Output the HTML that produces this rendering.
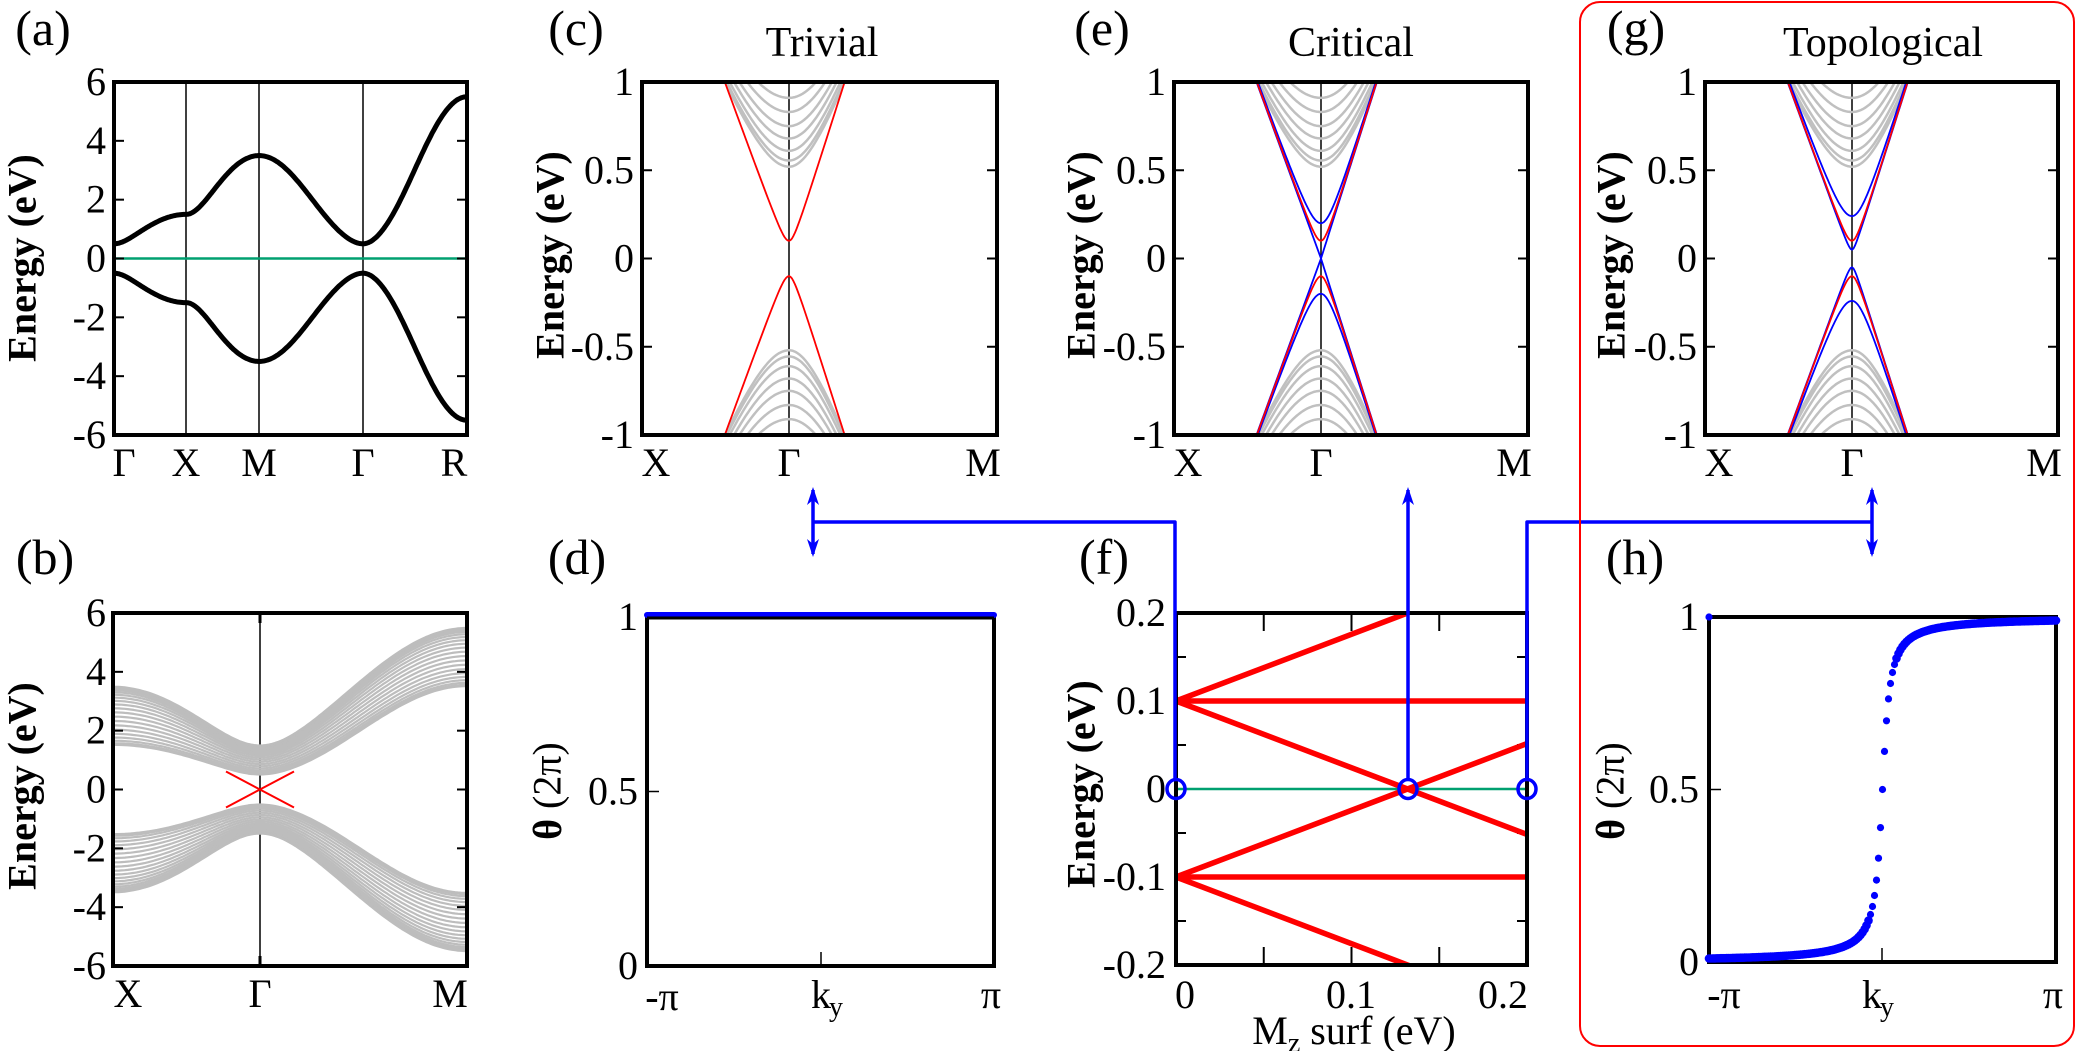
<!DOCTYPE html>
<html><head><meta charset="utf-8"><style>
html,body{margin:0;padding:0;background:#fff;}
svg{display:block;}
text{font-family:"Liberation Serif","Times New Roman",serif;}
</style></head><body>
<svg id="s" width="2076" height="1051" viewBox="0 0 2076 1051" xmlns="http://www.w3.org/2000/svg" font-family="Liberation Serif, serif">
<rect x="0" y="0" width="2076" height="1051" fill="#fff"/>
<g id="g"></g>
</svg>
<script>
const NS="http://www.w3.org/2000/svg";
const G=document.getElementById('g');
const FF='Liberation Serif, serif';
function el(t,a,txt){const e=document.createElementNS(NS,t);if(t==='text')e.setAttribute('font-family',FF);for(const k in a)e.setAttribute(k,a[k]);if(txt!==undefined)e.textContent=txt;G.appendChild(e);return e;}
function line(x1,y1,x2,y2,c,w,extra){return el('line',Object.assign({x1,y1,x2,y2,stroke:c,'stroke-width':w},extra||{}));}
function path(d,c,w,extra){return el('path',Object.assign({d,stroke:c,'stroke-width':w,fill:'none','stroke-linejoin':'round'},extra||{}));}
function text(x,y,s,size,anchor,extra){return el('text',Object.assign({x,y,'font-size':size,'text-anchor':anchor||'middle'},extra||{}),s);}
function clip(id,x0,y0,x1,y1){const c=el('clipPath',{id});const r=document.createElementNS(NS,'rect');r.setAttribute('x',x0);r.setAttribute('y',y0);r.setAttribute('width',x1-x0);r.setAttribute('height',y1-y0);c.appendChild(r);}
function frame(x0,y0,x1,y1){el('rect',{x:x0,y:y0,width:x1-x0,height:y1-y0,fill:'none',stroke:'#000','stroke-width':4});}
function ylab(x,y,s){text(x,y,s,40,'middle',{'font-weight':'bold',transform:`rotate(-90 ${x} ${y})`,'dominant-baseline':'central'});}
function tick(x,y,s){text(x,y+13,s,40,'end');}

// ---------- (a)
(function(){
 const x0=114,x1=467,y0=82,y1=435,yc=258.5,sc=(y1-y0)/12;
 const Ef=(k)=>{let s=0,m=-0.5;for(const q of k){s+=Math.sin(q)**2;m+=1-Math.cos(q);}return Math.sqrt(s+m*m);};
 const segs=[[114,186,t=>[t*Math.PI,0,0]],[186,259,t=>[Math.PI,t*Math.PI,0]],[259,363,t=>[(1-t)*Math.PI,(1-t)*Math.PI,0]],[363,467,t=>[t*Math.PI,t*Math.PI,t*Math.PI]]];
 let up='',dn='';
 for(const [a,b,f] of segs){for(let i=0;i<=60;i++){const t=i/60,x=a+(b-a)*t,E=Ef(f(t));up+=(up?'L':'M')+x.toFixed(1)+','+(yc-E*sc).toFixed(1);dn+=(dn?'L':'M')+x.toFixed(1)+','+(yc+E*sc).toFixed(1);}}
 for(const x of [186,259,363]) line(x,y0,x,y1,'#000',1.5);
 line(x0,yc,x1,yc,'#00a070',2.5);
 clip('ca',x0,y0,x1,y1);
 path(up,'#000',5,{'clip-path':'url(#ca)'});path(dn,'#000',5,{'clip-path':'url(#ca)'});
 for(let v=-4;v<=4;v+=2){const y=yc-v*sc;line(x0,y,x0+10,y,'#000',2);line(x1-10,y,x1,y,'#000',2);}
 frame(x0,y0,x1,y1);
 for(let v=-6;v<=6;v+=2){tick(106,yc-v*sc,(v<0?'-':'')+Math.abs(v));}
 [['Γ',124],['X',186],['M',259],['Γ',363],['R',454]].forEach(([s,x])=>text(x,476,s,40));
 ylab(22,258,'Energy (eV)');
 text(43,45,'(a)',50);
})();

// ---------- (b)
(function(){
 const x0=113,x1=467,y0=613,y1=966,yc=789.5,sc=(y1-y0)/12,xg=260;
 clip('cb',x0,y0,x1,y1);
 line(xg,y0,xg,y1,'#000',1.5);
 const N=20;
 for(let n=1;n<=N;n++){const kz=n*Math.PI/(N+1);let up='',dn='';
  for(let i=0;i<=120;i++){let x,kx,ky;if(i<=50){const t=i/50;x=x0+(xg-x0)*t;kx=(1-t)*Math.PI;ky=0;}else{const t=(i-50)/70;x=xg+(x1-xg)*t;kx=t*Math.PI;ky=t*Math.PI;}
   const m=-0.5+(1-Math.cos(kx))+(1-Math.cos(ky))+(1-Math.cos(kz));const E=Math.sqrt(Math.sin(kx)**2+Math.sin(ky)**2+Math.sin(kz)**2+m*m);
   up+=(up?'L':'M')+x.toFixed(1)+','+(yc-E*sc).toFixed(1);dn+=(dn?'L':'M')+x.toFixed(1)+','+(yc+E*sc).toFixed(1);}
  path(up,'#bdbdbd',2.2,{'clip-path':'url(#cb)'});path(dn,'#bdbdbd',2.2,{'clip-path':'url(#cb)'});}
 path(`M${xg-34},${yc-18}L${xg+34},${yc+18}M${xg-34},${yc+18}L${xg+34},${yc-18}`,'#ff0000',2);
 for(let v=-4;v<=4;v+=2){const y=yc-v*sc;line(x0,y,x0+10,y,'#000',2);line(x1-10,y,x1,y,'#000',2);}
 line(xg,y0,xg,y0+10,'#000',3);line(xg,y1-10,xg,y1,'#000',3);
 frame(x0,y0,x1,y1);
 for(let v=-6;v<=6;v+=2){tick(106,yc-v*sc,(v<0?'-':'')+Math.abs(v));}
 [['X',128],['Γ',260],['M',450]].forEach(([s,x])=>text(x,1007,s,40));
 ylab(22,786,'Energy (eV)');
 text(45,574,'(b)',50);
})();

// ---------- (c),(e),(g)
function bandPanel(id,x0,x1,xg,title,tx,lab,labx,ylx,extra){
 const y0=82,y1=435,yc=258.5,sc=(y1-y0)/2;
 clip(id,x0,y0,x1,y1);
 line(xg,y0,xg,y1,'#000',1.5);
 const ms=[0.52,0.555,0.61,0.68,0.75,0.83,0.91,1.0,1.1,1.2,1.3];
 const sL=75,sR=65;
 function curve(m,sign,f){let d='';for(let dx=-90;dx<=90;dx+=1.5){const s=(dx<0?sL:sR)*f;const E=Math.sqrt(m*m+(dx/s)**2);d+=(d?'L':'M')+(xg+dx).toFixed(1)+','+(yc-sign*E*sc).toFixed(1);}return d;}
 for(const m of ms){path(curve(m,1,1),'#c0c0c0',2.5,{'clip-path':`url(#${id})`});path(curve(m,-1,1),'#c0c0c0',2.5,{'clip-path':`url(#${id})`});}
 for(const [m,c] of extra){path(curve(m,1,0.86),c,1.8,{'clip-path':`url(#${id})`});path(curve(m,-1,0.86),c,1.8,{'clip-path':`url(#${id})`});}
 for(const v of [-0.5,0,0.5]){const y=yc-v*sc;line(x0,y,x0+10,y,'#000',2);line(x1-10,y,x1,y,'#000',2);}
 frame(x0,y0,x1,y1);
 [[1,'1'],[0.5,'0.5'],[0,'0'],[-0.5,'-0.5'],[-1,'-1']].forEach(([v,s])=>tick(x0-8,yc-v*sc,s));
 [['X',x0+14],['Γ',xg],['M',x1-14]].forEach(([s,x])=>text(x,476,s,40));
 text(tx,56,title,42);
 ylab(ylx,255,'Energy (eV)');
 text(labx,45,lab,50);
}
bandPanel('cc',642,997,789,'Trivial',822,'(c)',576,550,[[0.1,'#ff0000']]);
bandPanel('ce',1174,1528,1321,'Critical',1351,'(e)',1102,1081,[[0.0,'#0000ff'],[0.2,'#0000ff'],[0.1,'#ff0000']]);
bandPanel('cg',1705,2058,1852,'Topological',1883,'(g)',1636,1611,[[0.05,'#0000ff'],[0.24,'#0000ff'],[0.1,'#ff0000']]);

// ---------- (d)
(function(){
 const x0=647,x1=994,y0=617,y1=966;
 line(x0,(y0+y1)/2,x0+12,(y0+y1)/2,'#000',1.5);
 line(821,y1-14,821,y1,'#000',1.5);
 frame(x0,y0,x1,y1);
 line(x0,y0-2,x1,y0-2,'#0000ff',6,{'stroke-linecap':'round'});
 line(x0,y0+1,x1,y0+1,'#000',3);
 tick(638,y0,'1');tick(638,(y0+y1)/2,'0.5');tick(638,y1,'0');
 text(662,1010,'-π',40);text(821,1008,'k',40);text(836,1016,'y',28);text(991,1008,'π',40);
 const t=el('text',{x:547,y:791,'font-size':40,'text-anchor':'middle','dominant-baseline':'central',transform:'rotate(-90 547 791)'});
 t.innerHTML='<tspan font-weight="bold">θ</tspan> (2π)';
 text(577,574,'(d)',50);
})();

// ---------- (h)
(function(){
 const x0=1709,x1=2056,y0=617,y1=962;
 line(x0,(y0+y1)/2,x0+12,(y0+y1)/2,'#000',1.5);
 line(1882,y1-14,1882,y1,'#000',1.5);
 frame(x0,y0,x1,y1);
 const a=0.1;
 const X=k=>x0+(k+Math.PI)/(2*Math.PI)*(x1-x0);
 for(let k=-Math.PI;k<=Math.PI+1e-9;k+=2*Math.PI/174){const th=0.5+Math.atan(k/a)/Math.PI;const r=Math.abs(k)<0.25?3.6:4.3;el('circle',{cx:X(k).toFixed(1),cy:(y1-th*(y1-y0)).toFixed(1),r,fill:'#0000ff'});}
 el('circle',{cx:x0,cy:y0,r:3.6,fill:'#0000ff'});
 tick(1699,y0,'1');tick(1699,(y0+y1)/2,'0.5');tick(1699,y1,'0');
 text(1724,1008,'-π',40);text(1872,1008,'k',40);text(1887,1016,'y',28);text(2053,1008,'π',40);
 const t=el('text',{x:1610,y:791,'font-size':40,'text-anchor':'middle','dominant-baseline':'central',transform:'rotate(-90 1610 791)'});
 t.innerHTML='<tspan font-weight="bold">θ</tspan> (2π)';
 text(1635,574,'(h)',50);
})();

// ---------- (f)
(function(){
 const x0=1176,x1=1527,y0=613,y1=965,yc=789,sc=(y1-y0)/0.4;
 const X=m=>x0+m/0.2*(x1-x0), Y=e=>yc-e*sc;
 clip('cf',x0,y0,x1,y1);
 for(const v of [-0.15,-0.05,0.05,0.15]){line(x0,Y(v),x0+10,Y(v),'#000',2);line(x1-10,Y(v),x1,Y(v),'#000',2);}
 for(const m of [0.05,0.1,0.15]){line(X(m),y0,X(m),y0+18,'#000',2);line(X(m),y1-18,X(m),y1,'#000',2);}
 line(x0,yc,x1,yc,'#00a070',2.5);
 const s=0.758,r={'clip-path':'url(#cf)'};
 const L=[[0.1,s],[0.1,0],[0.1,-s],[-0.1,s],[-0.1,0],[-0.1,-s]];
 for(const [e0,k] of L) path(`M${X(0)},${Y(e0)}L${X(0.2)},${Y(e0+k*0.2)}`,'#ff0000',5.5,r);
 frame(x0,y0,x1,y1);
 [[0.2,'0.2'],[0.1,'0.1'],[0,'0'],[-0.1,'-0.1'],[-0.2,'-0.2']].forEach(([v,t])=>tick(1166,Y(v),t));
 text(1185,1008,'0',40);text(1351,1008,'0.1',40);text(1503,1008,'0.2',40);
 const t=el('text',{x:1354,y:1044,'font-size':40,'text-anchor':'middle'});
 t.innerHTML='M<tspan font-size="28" dy="8">z</tspan><tspan dy="-8"> surf (eV)</tspan>';
 ylab(1081,784,'Energy (eV)');
 text(1104,574,'(f)',50);
})();

// ---------- connectors
(function(){
 const B='#0000ff';
 function arrowUp(x,y){el('path',{d:`M${x},${y}L${x-6},${y+18}L${x},${y+13}L${x+6},${y+18}Z`,fill:B});}
 function arrowDn(x,y){el('path',{d:`M${x},${y}L${x-6},${y-18}L${x},${y-13}L${x+6},${y-18}Z`,fill:B});}
 path('M813,490L813,554M813,522L1175,522L1175,779',B,3.5);
 arrowUp(813,487);arrowDn(813,557);
 path('M1408,490L1408,779',B,3.5);arrowUp(1408,487);
 path('M1527,779L1527,522L1872,522M1872,490L1872,554',B,3.5);
 arrowUp(1872,487);arrowDn(1872,557);
 for(const x of [1176,1408,1527]) el('ellipse',{cx:x,cy:789,rx:9,ry:9.5,fill:'none',stroke:B,'stroke-width':3.5});
 el('rect',{x:1580,y:2,width:494,height:1044,rx:20,ry:20,fill:'none',stroke:'#ff0000','stroke-width':2});
})();
</script>
</body></html>
